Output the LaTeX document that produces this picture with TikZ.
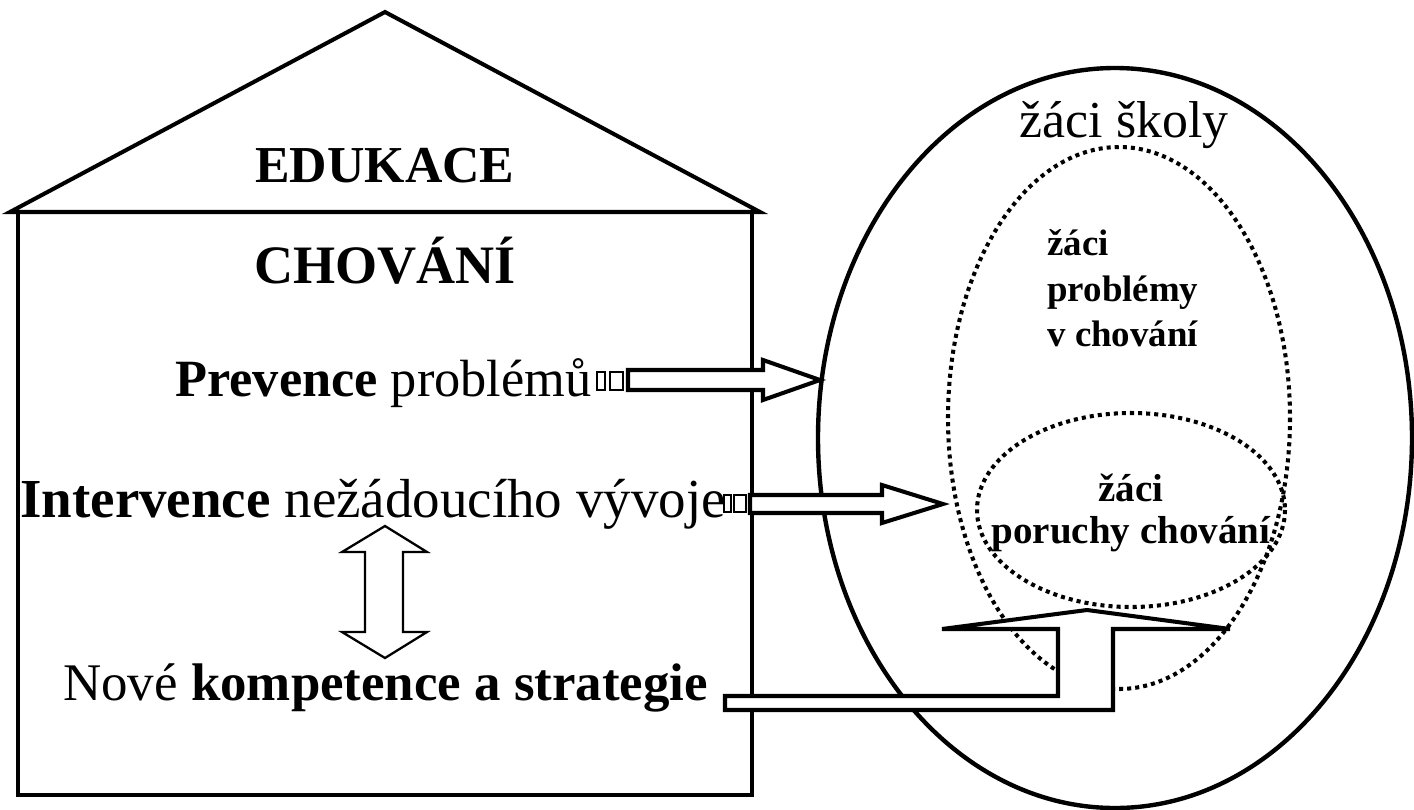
\documentclass[tikz,border=0pt]{standalone}
\usepackage{fontspec}
\setmainfont{Liberation Serif}
\begin{document}
\begin{tikzpicture}[x=0.02cm,y=-0.02cm,line join=miter,
    big/.style={font=\fontsize{#1}{33}\selectfont,inner sep=0pt},
    big/.default=29.5,
    small/.style={font=\fontsize{21}{26}\selectfont\bfseries,inner sep=0pt},
    dots/.style={line width=2.3pt,dash pattern=on 2.3pt off 2.3pt},
    block/.style={line width=2.3pt,fill=white}]
                \useasboundingbox (0,0) rectangle (1414,809);
                \def\house{(18,212) rectangle (752,795)}
                \def\roof{(10,212) -- (385,12) -- (760,212) -- cycle}
                \def\skola{(1115,438) ellipse (297 and 370)}
                \def\problemy{(1119,418) ellipse (171 and 271)}
                \def\poruchy{(1131,510) ellipse (154 and 97)}

                % House
                \draw[line width=2.8pt] \house;
                \draw[line width=2.3pt] \roof;

                % Pupils
                \draw[line width=2.5pt] \skola;
                \draw[dots] \problemy;
                \draw[dots] \poruchy;

                % Prevence arrow
                \draw[line width=1.5pt] (597,372) rectangle (605,390) (610,372) rectangle (623,390);
                \draw[block] (628,370) -- (763,370) -- (763,360) -- (820,380)
                    -- (763,400) -- (763,390) -- (628,390) -- cycle;

                % Intervence arrow
                \draw[line width=1.5pt] (724,495) rectangle (731,512) (734,495) rectangle (746,512);
                \draw[block] (750,495) -- (882,495) -- (882,485) -- (943,504)
                    -- (882,523) -- (882,513) -- (750,513) -- cycle;

                % Kompetence arrow
                \draw[block] (725,696) -- (1058,696) -- (1058,629) -- (942,629)
                    -- (1087,610) -- (1230,629) -- (1113,629) -- (1113,710)
                    -- (725,710) -- cycle;

                % Double arrow
                \draw[line width=1.3pt] (385,526) -- (427,552) -- (403,552) -- (403,632)
                    -- (427,632) -- (385,658) -- (342,632) -- (365,632)
                    -- (365,552) -- (342,552) -- cycle;

                % Labels
                \node[big,anchor=base] (edukace) at (385,182) {\bfseries EDUKACE};
                \node[big=30.8,anchor=base] (chovani) at (385,283) {\bfseries CHOVÁNÍ};
                \node[big=29.8,anchor=base west] (prevence) at (175,396) {\textbf{Prevence} problémů};
                \node[big=31.3,anchor=base west] (intervence) at (20,517) {\textbf{Intervence} nežádoucího vývoje};
                \node[big=30.1,anchor=base west] (nove) at (63,700) {Nové \textbf{kompetence a strategie}};
                \node[big,anchor=base] (skola) at (1124,137) {žáci školy};
                \node[small,anchor=north west,align=left] (zproblemy) at (1047,229)
                    {žáci\\problémy\\v chování};
                \node[small,anchor=north,align=center,font=\fontsize{22.2}{23.5}\selectfont\bfseries]
                    (zporuchy) at (1131,474) {žáci\\poruchy chování};
            \end{tikzpicture}
\end{document}
